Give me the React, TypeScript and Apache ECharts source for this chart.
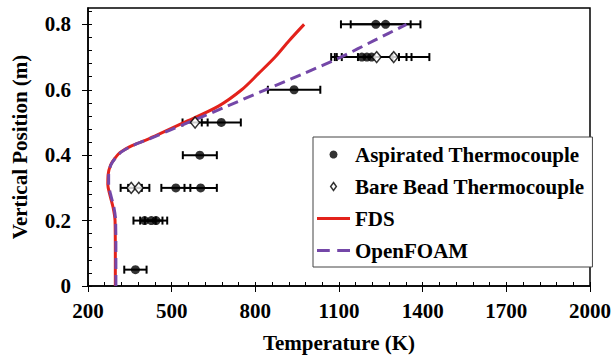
import React, { useEffect, useRef } from "react";
import * as echarts from "echarts";

// ---- data ----
const fdsY = [0, 0.1, 0.2, 0.24, 0.28, 0.31, 0.34, 0.37, 0.39, 0.41, 0.43, 0.45, 0.5, 0.55, 0.6, 0.65, 0.7, 0.75, 0.8];
const fdsT = [298, 298, 297, 290, 278, 271, 272, 281, 296, 318, 360, 418, 545, 668, 751, 812, 871, 921, 975];

const foamY = [0, 0.1, 0.2, 0.24, 0.28, 0.31, 0.34, 0.37, 0.39, 0.41, 0.43, 0.45, 0.5, 0.55, 0.6, 0.65, 0.7, 0.75, 0.8];
const foamT = [300, 300, 299, 293, 281, 274, 274, 282, 297, 320, 362, 420, 560, 700, 836, 975, 1107, 1225, 1342];

const aspT = [1232, 1267, 1182, 1200, 1217, 939, 678, 601, 515, 604, 403, 427, 444, 370];
const aspY = [0.8, 0.8, 0.7, 0.7, 0.7, 0.6, 0.5, 0.4, 0.3, 0.3, 0.2, 0.2, 0.2, 0.05];
const aspErr = [125, 125, 110, 115, 125, 94, 70, 61, 52, 58, 40, 40, 40, 40];

const bareT = [1235, 1296, 584, 355, 382];
const bareY = [0.7, 0.7, 0.5, 0.3, 0.3];
const bareErr = [125, 128, 45, 38, 38];

const xMajorTicks = [200, 500, 800, 1100, 1400, 1700, 2000];
const xMinorTicks = [200, 260, 320, 380, 440, 500, 560, 620, 680, 740, 800, 860, 920, 980, 1040, 1100, 1160, 1220, 1280, 1340, 1400, 1460, 1520, 1580, 1640, 1700, 1760, 1820, 1880, 1940, 2000];
const yMajorTicks = [0, 0.2, 0.4, 0.6, 0.8];
const yMinorTicks = [0, 0.04, 0.08, 0.12, 0.16, 0.2, 0.24, 0.28, 0.32, 0.36, 0.4, 0.44, 0.48, 0.52, 0.56, 0.6, 0.64, 0.68, 0.72, 0.76, 0.8, 0.84];

const legendNames = ["Aspirated Thermocouple", "Bare Bead Thermocouple", "FDS", "OpenFOAM"];

const FONT = "Liberation Serif, Times New Roman, serif";
const RED = "#e3221b";
const PURPLE = "#7447a8";

function errorBarRender(params: any, api: any) {
  const x = api.value(0);
  const y = api.value(1);
  const e = api.value(2);
  const a = api.coord([x - e, y]);
  const b = api.coord([x + e, y]);
  const h = 4;
  const st = { stroke: "#000", lineWidth: 2 };
  return {
    type: "group",
    children: [
      { type: "line", shape: { x1: a[0], y1: a[1], x2: b[0], y2: b[1] }, style: st },
      { type: "line", shape: { x1: a[0], y1: a[1] - h, x2: a[0], y2: a[1] + h }, style: st },
      { type: "line", shape: { x1: b[0], y1: b[1] - h, x2: b[0], y2: b[1] + h }, style: st },
    ],
  };
}

export default function App() {
  const ref = useRef<HTMLDivElement>(null);
  useEffect(() => {
    if (!ref.current) return;
    const chart = echarts.init(ref.current, undefined, { renderer: "svg" });
    const labelStyle = { fontFamily: FONT, fontWeight: "bold" as const, fontSize: 21, color: "#000" };
    chart.setOption({
      animation: false,
      backgroundColor: "#fff",
      grid: { left: 88, right: 20, top: 8, bottom: 74, show: true, borderColor: "#000", borderWidth: 1.5, backgroundColor: "transparent" },
      legend: {
        orient: "vertical",
        left: 313,
        top: 137,
        padding: [7, 8, 6, 4],
        itemWidth: 33,
        itemHeight: 8,
        itemGap: 11,
        borderColor: "#444",
        borderWidth: 1,
        backgroundColor: "#fff",
        selectedMode: false,
        symbolKeepAspect: true,
        textStyle: labelStyle,
        data: [
          { name: legendNames[0], icon: "circle", itemStyle: { color: "#000" } },
          {
            name: legendNames[1],
            icon: "path://M5,0L10,7L5,14L0,7Z",
            itemStyle: { color: "#fff", borderColor: "#000", borderWidth: 1.5 },
          },
          { name: legendNames[2], icon: "path://M0,0h33v3h-33z", itemStyle: { color: RED, borderWidth: 0 } },
          { name: legendNames[3], icon: "path://M0,0h12v3h-12zM19,0h12v3h-12z", itemStyle: { color: PURPLE, borderWidth: 0 } },
        ],
      },
      xAxis: [
        {
          type: "value",
          min: 200,
          max: 2000,
          position: "bottom",
          name: "Temperature (K)",
          nameLocation: "middle",
          nameGap: 46,
          nameTextStyle: labelStyle,
          axisLine: { show: true, lineStyle: { color: "#000", width: 1.5 } },
          axisTick: { show: true, inside: false, length: 6, customValues: xMajorTicks, lineStyle: { color: "#000", width: 1 } },
          axisLabel: { show: true, margin: 14, customValues: xMajorTicks, formatter: (v: number) => String(v), ...labelStyle },
          splitLine: { show: false },
        },
        {
          type: "value",
          min: 200,
          max: 2000,
          position: "bottom",
          axisLine: { show: false },
          axisTick: { show: true, inside: true, length: 4, customValues: xMinorTicks, lineStyle: { color: "#000", width: 1 } },
          axisLabel: { show: false },
          splitLine: { show: false },
        },
      ],
      yAxis: [
        {
          type: "value",
          min: 0,
          max: 0.85,
          position: "left",
          name: "Vertical Position (m)",
          nameLocation: "middle",
          nameGap: 58,
          nameTextStyle: labelStyle,
          axisLine: { show: true, lineStyle: { color: "#000", width: 1.5 } },
          axisTick: { show: true, inside: false, length: 6, customValues: yMajorTicks, lineStyle: { color: "#000", width: 1 } },
          axisLabel: {
            show: true,
            margin: 17,
            customValues: yMajorTicks,
            formatter: (v: number) => (v === 0 ? "0" : v.toFixed(1)),
            ...labelStyle,
          },
          splitLine: { show: false },
        },
        {
          type: "value",
          min: 0,
          max: 0.85,
          position: "left",
          axisLine: { show: false },
          axisTick: { show: true, inside: true, length: 4, customValues: yMinorTicks, lineStyle: { color: "#000", width: 1 } },
          axisLabel: { show: false },
          splitLine: { show: false },
        },
      ],
      series: [
        {
          name: "aspErr",
          type: "custom",
          xAxisIndex: 0,
          yAxisIndex: 0,
          renderItem: errorBarRender,
          encode: { x: 0, y: 1 },
          data: aspT.map((t, i) => [t, aspY[i], aspErr[i]]),
          z: 2,
        },
        {
          name: "bareErr",
          type: "custom",
          xAxisIndex: 0,
          yAxisIndex: 0,
          renderItem: errorBarRender,
          encode: { x: 0, y: 1 },
          data: bareT.map((t, i) => [t, bareY[i], bareErr[i]]),
          z: 2,
        },
        {
          name: legendNames[2],
          type: "line",
          xAxisIndex: 0,
          yAxisIndex: 0,
          smooth: 0.3,
          symbol: "none",
          lineStyle: { color: RED, width: 3 },
          itemStyle: { color: RED },
          data: fdsT.map((t, i) => [t, fdsY[i]]),
          z: 3,
        },
        {
          name: legendNames[3],
          type: "line",
          xAxisIndex: 0,
          yAxisIndex: 0,
          smooth: 0.3,
          symbol: "none",
          lineStyle: { color: PURPLE, width: 3, type: [11, 6] },
          itemStyle: { color: PURPLE },
          data: foamT.map((t, i) => [t, foamY[i]]),
          z: 4,
        },
        {
          name: legendNames[0],
          type: "scatter",
          xAxisIndex: 0,
          yAxisIndex: 0,
          symbol: "circle",
          symbolSize: 9,
          itemStyle: { color: "#000" },
          data: aspT.map((t, i) => [t, aspY[i]]),
          z: 5,
        },
        {
          name: legendNames[1],
          type: "scatter",
          xAxisIndex: 0,
          yAxisIndex: 0,
          symbol: "diamond",
          symbolSize: [9, 11],
          itemStyle: { color: "#fff", borderColor: "#000", borderWidth: 1.5 },
          data: bareT.map((t, i) => [t, bareY[i]]),
          z: 5,
        },
      ],
    });
    return () => chart.dispose();
  }, []);
  return <div ref={ref} style={{ position: "fixed", left: 0, top: 0, width: 614, height: 360 }} />;
}
